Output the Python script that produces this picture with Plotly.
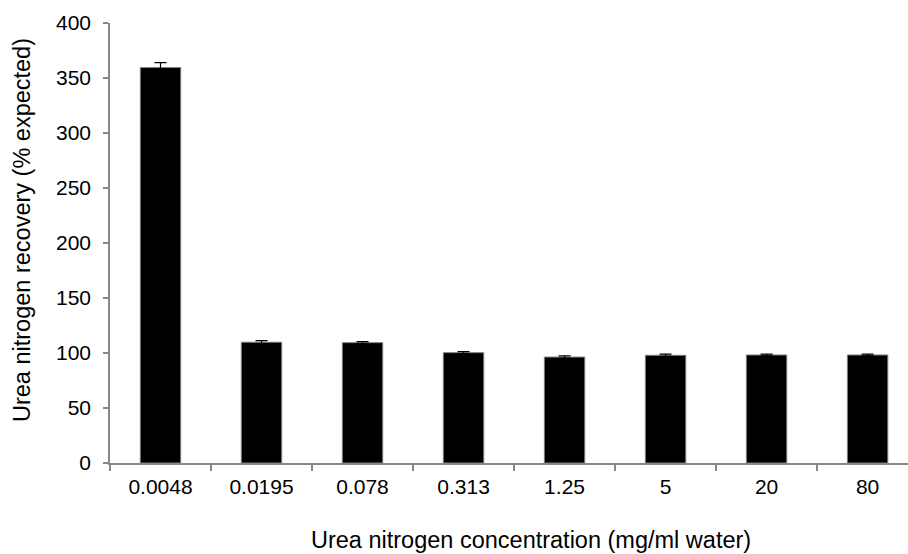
import plotly.graph_objects as go

categories = ["0.0048", "0.0195", "0.078", "0.313", "1.25", "5", "20", "80"]
recovery = [359.5, 109.8, 109.4, 100.3, 96.3, 97.9, 98.2, 98.2]
errors = [4.5, 1.5, 1.0, 1.0, 1.1, 1.0, 0.8, 0.8]

W, H = 908, 554
ML, MR, MT, MB = 110, 0, 23, 91
FONT = "Liberation Sans, Arial, sans-serif"
AXIS = "#878787"

fig = go.Figure()
fig.add_trace(go.Bar(
    x=categories, y=recovery,
    width=0.4,
    marker=dict(color="black", line=dict(color="#7f7f7f", width=1)),
    error_y=dict(type="data", array=errors, visible=True, color="black", thickness=1.2, width=6),
))

fig.update_layout(
    width=W, height=H,
    margin=dict(l=ML, r=MR, t=MT, b=MB),
    paper_bgcolor="white", plot_bgcolor="white",
    showlegend=False,
    font=dict(family=FONT, color="black", size=21),
    xaxis=dict(
        type="category", range=[-0.5, 7.4],
        showline=True, linecolor=AXIS, linewidth=1.5,
        ticks="outside", tickson="boundaries", ticklen=6, tickcolor=AXIS, tickwidth=1.5,
        tickfont=dict(size=21), showgrid=False, zeroline=False,
        ticklabelstandoff=4,
    ),
    yaxis=dict(
        range=[0, 400], tickvals=[0, 50, 100, 150, 200, 250, 300, 350, 400],
        showline=True, linecolor=AXIS, linewidth=1.5,
        ticks="outside", ticklen=5, tickcolor=AXIS, tickwidth=1.5,
        tickfont=dict(size=21), showgrid=False, zeroline=False,
        ticklabelstandoff=8,
    ),
)

pw = W - ML - MR
ph = H - MT - MB
fig.add_annotation(
    text="Urea nitrogen concentration (mg/ml water)",
    xref="paper", yref="paper",
    x=(531 - ML) / pw, y=(H - MB - 540) / ph,
    xanchor="center", yanchor="middle", showarrow=False,
    font=dict(size=23.5, family=FONT, color="black"),
)
fig.add_annotation(
    text="Urea nitrogen recovery (% expected)",
    xref="paper", yref="paper",
    x=(22 - ML) / pw, y=(H - MB - 230) / ph,
    xanchor="center", yanchor="middle", showarrow=False, textangle=-90,
    font=dict(size=23.5, family=FONT, color="black"),
)

fig.write_html("out.html")
